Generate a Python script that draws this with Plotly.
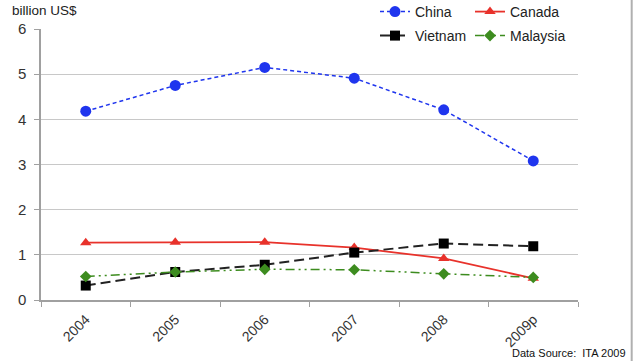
import plotly.graph_objects as go

years = ["2004", "2005", "2006", "2007", "2008", "2009p"]
china = [4.18, 4.75, 5.15, 4.91, 4.21, 3.08]
canada = [1.27, 1.28, 1.28, 1.16, 0.92, 0.48]
vietnam = [0.32, 0.62, 0.78, 1.05, 1.25, 1.19]
malaysia = [0.52, 0.62, 0.68, 0.67, 0.58, 0.50]
y_ticks = [0, 1, 2, 3, 4, 5, 6]

font = "Liberation Sans, Arial, sans-serif"

fig = go.Figure()
fig.add_trace(go.Scatter(
    x=years, y=china, name="China", mode="lines+markers", legend="legend",
    line=dict(color="#1f35ee", width=1.5, dash="4px,3px"),
    marker=dict(symbol="circle", size=11, color="#1f35ee")))
fig.add_trace(go.Scatter(
    x=years, y=canada, name="Canada", mode="lines+markers", legend="legend2",
    line=dict(color="#e8322b", width=1.8),
    marker=dict(symbol="triangle-up", size=10, color="#e8322b")))
fig.add_trace(go.Scatter(
    x=years, y=vietnam, name="Vietnam", mode="lines+markers", legend="legend3",
    line=dict(color="#222222", width=2, dash="10px,5px"),
    marker=dict(symbol="square", size=10, color="#000000")))
fig.add_trace(go.Scatter(
    x=years, y=malaysia, name="Malaysia", mode="lines+markers", legend="legend4",
    line=dict(color="#3d8c1f", width=1.5, dash="9px,4px,2px,4px,2px,4px"),
    marker=dict(symbol="diamond", size=9, color="#3d8c1f")))

# one single-entry legend per series, laid out as a 2x2 block
legend_style = dict(
    xref="container", yref="container", xanchor="left", yanchor="middle",
    itemwidth=30, font=dict(size=14, color="#222222"),
    bgcolor="rgba(0,0,0,0)", visible=True)
col1, col2 = 375 / 641, 470 / 641
row1, row2 = 1 - 12 / 361, 1 - 36 / 361

fig.update_layout(
    width=641, height=361, showlegend=True,
    margin=dict(l=41, r=63, t=29, b=61, autoexpand=False),
    paper_bgcolor="white", plot_bgcolor="white",
    font=dict(family=font, color="#333333"),
    legend=dict(legend_style, x=col1, y=row1),
    legend2=dict(legend_style, x=col2, y=row1),
    legend3=dict(legend_style, x=col1, y=row2),
    legend4=dict(legend_style, x=col2, y=row2),
    xaxis=dict(
        type="category", range=[-0.5, 5.5], showgrid=False, showline=True,
        linecolor="#a0a0a0", linewidth=1.5,
        ticks="outside", tickson="boundaries", ticklen=5,
        tickcolor="#a0a0a0", tickangle=-45, ticklabelstandoff=4,
        tickfont=dict(size=14, color="#333333")),
    yaxis=dict(
        range=[0, 6], tickvals=y_ticks, showgrid=True,
        gridcolor="#c8c8c8", gridwidth=1,
        showline=True, linecolor="#a0a0a0", linewidth=1.5,
        ticks="outside", ticklen=5, tickcolor="#a0a0a0",
        ticklabelstandoff=5,
        tickfont=dict(size=15, color="#333333"), zeroline=False),
    annotations=[
        dict(text="billion US$", xref="paper", yref="paper",
             x=-0.058, y=1.035, xanchor="left", yanchor="bottom",
             showarrow=False, font=dict(size=13.5, color="#222222")),
        dict(text="Data Source:  ITA 2009", xref="paper", yref="paper",
             x=1.093, y=-0.225, xanchor="right", yanchor="bottom",
             showarrow=False, font=dict(size=11, color="#111111")),
    ],
    shapes=[
        dict(type="line", xref="paper", yref="paper",
             x0=1.1, x1=1.1, y0=1.2, y1=-0.3,
             line=dict(color="#b0b0b0", width=2)),
    ],
)

fig.write_html("out.html")
